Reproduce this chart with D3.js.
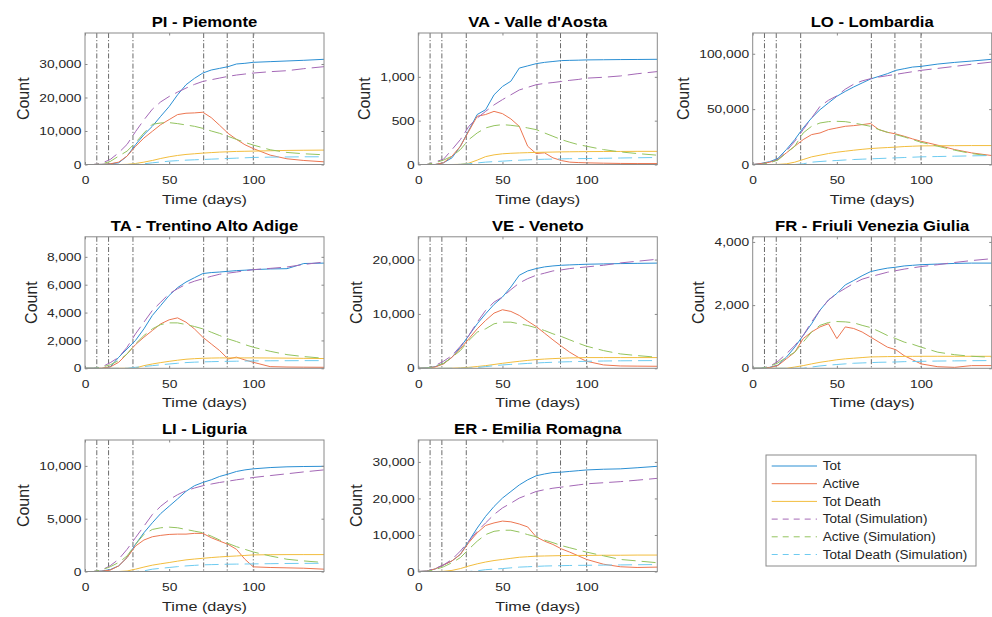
<!DOCTYPE html>
<html><head><meta charset="utf-8">
<script src="https://cdn.jsdelivr.net/npm/d3@7"></script>
<style>body{margin:0;background:#fff}</style>
</head><body><svg id="c" width="992" height="617"></svg>
<script>
// ---------------- DATA ----------------
const days = [0,5,10,15,20,25,30,35,40,45,50,55,60,65,70,75,80,85,90,95,100,110,120,130,142];
const xMax = 142;
const xTicks = [0,50,100];
const eventDays = [7,14,28.5,70.5,84.5,100];
const regionCodes = ["PI","VA","LO","TA","VE","FR","LI","ER"];
const regionTitles = ["PI - Piemonte","VA - Valle d'Aosta","LO - Lombardia","TA - Trentino Alto Adige","VE - Veneto","FR - Friuli Venezia Giulia","LI - Liguria","ER - Emilia Romagna"];
const yTickValues = [
  [0,10000,20000,30000],
  [0,500,1000],
  [0,50000,100000],
  [0,2000,4000,6000,8000],
  [0,10000,20000],
  [0,2000,4000],
  [0,5000,10000],
  [0,10000,20000,30000]
];
const seriesLabels = ["Tot","Active","Tot Death","Total (Simulation)","Active (Simulation)","Total Death (Simulation)"];

// Piemonte
const PI_tot       = [0,0,50,200,500,2500,5900,8900,11400,14400,17300,20800,23800,25700,27300,28200,28700,29200,30000,30200,30500,30700,30900,31100,31400];
const PI_active    = [0,0,50,200,700,2500,5400,7900,9900,11900,13400,14900,15300,15400,15600,14000,11700,9300,7500,5900,4750,2800,1700,1200,800];
const PI_death     = [0,0,0,0,0,50,300,700,1200,1800,2300,2700,3000,3200,3400,3550,3700,3800,3900,3950,4000,4100,4200,4250,4300];
const PI_totSim    = [0,0,400,1500,3500,6000,9800,13300,16500,18700,20300,21600,22800,23900,24800,25300,25800,26300,26700,27000,27300,27700,28000,28600,29200];
const PI_activeSim = [0,0,200,900,2500,4000,6500,9400,12000,12400,12500,12200,11800,11400,10800,10000,9300,8400,7500,6600,5800,4400,3600,3200,2900];
const PI_deathSim  = [0,0,0,0,0,0,50,200,500,750,1000,1150,1300,1400,1500,1600,1700,1800,1900,2000,2100,2200,2250,2300,2300];
// Valle d'Aosta
const VA_tot       = [0,0,0,20,76,208,390,570,625,795,890,950,1100,1125,1150,1165,1175,1185,1188,1190,1193,1195,1197,1198,1200];
const VA_active    = [0,0,0,20,95,208,380,550,570,606,580,520,435,208,125,133,76,45,27,22,19,15,12,11,11];
const VA_death     = [0,0,0,0,0,2,15,50,90,110,122,128,132,135,138,140,142,144,145,146,147,148,149,150,150];
const VA_totSim    = [0,0,30,60,170,284,435,530,606,680,740,795,850,880,910,925,935,947,960,970,985,995,1010,1035,1060];
const VA_activeSim = [0,0,20,50,95,170,284,360,417,443,455,447,435,417,398,360,322,284,254,227,208,170,144,125,106];
const VA_deathSim  = [0,0,0,0,0,2,8,18,27,33,38,44,49,53,57,60,62,64,66,67,68,71,74,77,80];
// Lombardia
const LO_tot       = [0,1000,2500,5500,13500,22500,33000,42000,49500,55600,61600,66000,70000,73600,77200,79600,82000,85000,86500,88000,88600,90700,92200,93400,95000];
const LO_active    = [0,800,2000,4500,10500,16500,22500,27000,28500,31500,33000,34500,35100,36000,37000,31500,29100,27600,25500,23100,21000,17400,13500,10500,8100];
const LO_death     = [0,0,0,100,600,2100,4500,6900,8400,9900,11100,12000,12900,13700,14400,14900,15300,15700,16200,16500,16800,16900,17000,17100,17100];
const LO_totSim    = [0,0,1500,4500,12000,21000,31500,42000,52500,58000,62000,68000,72500,75500,77500,79000,80200,81400,82600,83800,85000,86800,88600,90500,92500];
const LO_activeSim = [0,0,1500,4000,10500,16500,28500,34500,37500,38700,39000,38700,37500,36000,34500,31500,29100,27000,24900,22500,20100,16500,12900,9900,7500];
const LO_deathSim  = [0,0,0,0,0,0,600,2100,2700,3200,3600,4100,4500,4800,5100,5400,5700,6000,6300,6600,6900,7200,7500,7800,8100];
// Trentino Alto Adige
const TA_tot       = [0,0,0,100,790,1390,2000,2830,3790,4510,5230,5790,6190,6500,6800,6870,6910,6960,7010,7040,7080,7130,7150,7520,7550];
const TA_active    = [0,0,0,100,430,1030,1700,2230,2710,3190,3480,3620,3310,2830,2230,1750,1270,670,800,600,430,120,90,80,72];
const TA_death     = [0,0,0,0,0,0,20,190,310,410,500,580,650,690,720,735,745,745,745,745,745,740,730,715,700];
const TA_totSim    = [0,0,100,400,790,1510,2470,3310,4150,4750,5350,5710,6030,6250,6430,6600,6750,6830,6910,7000,7080,7170,7270,7450,7630];
const TA_activeSim = [0,0,80,250,550,1030,1750,2350,2830,3140,3260,3260,3140,3000,2830,2590,2350,2110,1920,1700,1510,1220,980,840,720];
const TA_deathSim  = [0,0,0,0,0,0,72,130,190,250,310,360,410,440,460,475,490,500,510,520,530,540,545,550,550];
// Veneto
const VE_tot       = [0,50,300,900,2030,3880,6030,8180,10030,11750,13110,14950,17110,17910,18340,18650,18830,18950,19020,19080,19140,19200,19260,19300,19350];
const VE_active    = [0,50,250,800,2030,3570,5420,7260,8800,10150,10770,10460,9720,8680,7690,6460,5230,4060,2950,2030,1290,620,430,400,370];
const VE_death     = [0,0,0,0,20,80,180,330,490,700,920,1110,1290,1450,1600,1700,1780,1850,1910,1940,1970,1970,1970,1970,1970];
const VE_totSim    = [0,50,500,1300,2340,4060,6030,8490,10650,12180,13110,14460,15690,16490,17110,17500,17910,18100,18340,18500,18650,18950,19380,19690,20060];
const VE_activeSim = [0,50,400,900,2030,3260,5110,6650,7260,8180,8490,8490,8180,7880,7450,6950,6340,5850,5230,4620,4060,3260,2650,2340,2030];
const VE_deathSim  = [0,0,0,0,0,0,20,150,310,470,620,720,800,900,980,1050,1110,1170,1210,1250,1290,1340,1380,1400,1420];
// Friuli Venezia Giulia
const FR_tot       = [0,0,30,100,350,670,1040,1410,1840,2160,2370,2640,2780,2930,3060,3120,3170,3200,3240,3260,3280,3300,3320,3330,3330];
const FR_active    = [0,0,20,90,300,510,940,1150,1310,1410,940,1310,1260,1150,990,830,670,590,400,270,140,50,30,85,85];
const FR_death     = [0,0,0,0,0,40,85,140,190,230,270,300,320,340,360,365,370,373,375,378,380,380,380,380,380];
const FR_totSim    = [0,0,60,220,460,720,1040,1470,1840,2160,2370,2530,2690,2820,2900,2970,3040,3090,3140,3180,3220,3280,3350,3410,3470];
const FR_activeSim = [0,0,60,170,350,510,830,1150,1360,1450,1480,1470,1440,1360,1290,1170,1040,940,830,760,670,510,430,380,350];
const FR_deathSim  = [0,0,0,0,0,0,0,40,75,100,120,140,160,170,180,190,195,200,210,215,220,230,235,240,245];
// Liguria
const LI_tot       = [0,0,50,180,530,1320,2570,3670,4610,5490,6180,6870,7590,8120,8430,8680,9000,9220,9470,9620,9720,9840,9910,9940,9960];
const LI_active    = [0,0,30,130,530,1320,2410,2980,3290,3420,3510,3540,3540,3610,3610,3200,2880,2570,2100,1160,440,380,345,310,220];
const LI_death     = [0,0,0,0,0,50,220,420,600,730,850,980,1100,1180,1250,1320,1380,1430,1470,1520,1570,1590,1600,1600,1600];
const LI_totSim    = [0,0,150,550,1160,2100,3200,4290,5390,6180,6800,7270,7650,7900,8120,8280,8430,8550,8680,8790,8900,9080,9250,9430,9620];
const LI_activeSim = [0,0,150,450,850,1470,2570,3510,3980,4140,4200,4140,3980,3820,3670,3350,2980,2660,2350,2100,1850,1470,1160,1000,850];
const LI_deathSim  = [0,0,0,0,0,0,0,60,220,300,380,460,530,580,630,650,670,690,700,710,720,740,760,770,780];
// Emilia Romagna
const ER_tot       = [0,100,700,1800,2900,4700,8300,11900,15100,17800,20100,21900,23700,25100,26200,26700,27100,27200,27400,27600,27800,28000,28100,28400,28800];
const ER_active    = [0,100,700,1800,2900,4700,7900,10600,12600,13300,13800,13600,13000,12200,9500,8300,7400,6200,5300,4300,3300,2000,1300,1100,1200];
const ER_death     = [0,0,0,50,300,800,1500,2100,2600,3000,3300,3600,3900,4050,4200,4250,4300,4350,4400,4400,4400,4450,4450,4500,4500];
const ER_totSim    = [0,100,800,1800,3300,5600,8300,11000,13300,15600,17400,18700,20100,21000,21900,22400,22800,23100,23400,23700,24000,24300,24600,25000,25500];
const ER_activeSim = [0,50,500,1300,2400,3800,6100,8300,10100,11000,11300,11300,10800,10100,9500,8600,7900,7100,6500,5900,5300,4300,3300,2900,2400];
const ER_deathSim  = [0,0,0,0,0,0,0,200,500,650,800,1000,1200,1300,1400,1500,1550,1600,1650,1680,1700,1750,1800,1850,1900];

// table built from the arrays above
const regionSeries = [
  [PI_tot,PI_active,PI_death,PI_totSim,PI_activeSim,PI_deathSim],
  [VA_tot,VA_active,VA_death,VA_totSim,VA_activeSim,VA_deathSim],
  [LO_tot,LO_active,LO_death,LO_totSim,LO_activeSim,LO_deathSim],
  [TA_tot,TA_active,TA_death,TA_totSim,TA_activeSim,TA_deathSim],
  [VE_tot,VE_active,VE_death,VE_totSim,VE_activeSim,VE_deathSim],
  [FR_tot,FR_active,FR_death,FR_totSim,FR_activeSim,FR_deathSim],
  [LI_tot,LI_active,LI_death,LI_totSim,LI_activeSim,LI_deathSim],
  [ER_tot,ER_active,ER_death,ER_totSim,ER_activeSim,ER_deathSim]
];

// ---------------- STYLE / LAYOUT ----------------
const FONT = "'Liberation Sans', Arial, Helvetica, sans-serif";
const SX = 1.2;
const seriesColors = ["#2b8fd3","#ec7651","#f2bd3e","#a468b6","#93c35e","#6ecbf0"];
const seriesDash = [null,null,null,"14,6","14,6","14,6"];
const boxColor = "#8a8a8a";
const colX = [85, 418.3, 752.7];
const rowY = [33, 236.8, 440];
const W = 239, H = 131.5;

const svg = d3.select("#c");

regionCodes.forEach((code, i) => {
  const col = i % 3, row = Math.floor(i / 3);
  const g = svg.append("g").attr("transform", `translate(${colX[col]},${rowY[row]})`);
  const series = regionSeries[i];
  const x = d3.scaleLinear().domain([0, xMax]).range([0, W]);
  const y = d3.scaleLinear().domain([0, 1.25 * d3.max(series[0])]).range([H, 0]);

  const clipId = "clip" + code;
  g.append("clipPath").attr("id", clipId).append("rect").attr("width", W).attr("height", H);

  // event lines
  g.append("g").selectAll("line").data(eventDays).join("line")
    .attr("x1", d => x(d)).attr("x2", d => x(d)).attr("y1", 0).attr("y2", H)
    .attr("stroke", "#5a5a5a").attr("stroke-width", 0.9).attr("stroke-dasharray", "5,2,1.2,2");

  // series
  const line = d3.line().x((d, j) => x(days[j])).y(d => y(d));
  const lg = g.append("g").attr("clip-path", `url(#${clipId})`);
  series.forEach((s, k) => {
    lg.append("path").datum(s).attr("d", line).attr("fill", "none")
      .attr("stroke", seriesColors[k]).attr("stroke-width", 1)
      .attr("stroke-dasharray", seriesDash[k]);
  });

  // box
  g.append("rect").attr("width", W).attr("height", H).attr("fill", "none").attr("stroke", boxColor).attr("stroke-width", 1);

  // axes
  const styleAxis = (a) => {
    a.select(".domain").remove();
    a.attr("font-family", FONT).attr("font-size", 11.5).attr("color", "#262626");
    a.selectAll("line").attr("stroke", boxColor);
  };
  const gx = g.append("g").attr("transform", `translate(0,${H})`)
    .call(d3.axisBottom(x).tickValues(xTicks).tickSizeInner(-2.5).tickSizeOuter(0).tickPadding(11.5).tickFormat(d3.format("d")));
  styleAxis(gx);
  gx.selectAll("text").attr("transform", `scale(${SX},1)`);
  const gxt = g.append("g").call(d3.axisTop(x).tickValues(xTicks).tickSizeInner(-2.5).tickSizeOuter(0).tickFormat(""));
  styleAxis(gxt);

  const gy = g.append("g")
    .call(d3.axisLeft(y).tickValues(yTickValues[i]).tickSizeInner(-2.5).tickSizeOuter(0).tickPadding(3).tickFormat(d3.format(",")));
  styleAxis(gy);
  gy.selectAll("text").attr("transform", `scale(${SX},1)`);
  const gyr = g.append("g").attr("transform", `translate(${W},0)`)
    .call(d3.axisRight(y).tickValues(yTickValues[i]).tickSizeInner(-2.5).tickSizeOuter(0).tickFormat(""));
  styleAxis(gyr);

  // title
  g.append("text").attr("transform", `translate(${W/2},-6) scale(1.15,1)`)
    .attr("text-anchor", "middle").attr("font-family", FONT).attr("font-weight", "bold")
    .attr("font-size", 14.5).attr("fill", "#000").text(regionTitles[i]);

  // x label
  g.append("text").attr("transform", `translate(${W/2},${H + 39}) scale(${SX},1)`)
    .attr("text-anchor", "middle").attr("font-family", FONT).attr("font-size", 13.5)
    .attr("fill", "#262626").text("Time (days)");

  // y label
  const bb = gy.node().getBBox();
  g.append("text").attr("transform", `translate(${bb.x - 16},${H/2}) scale(1.05,1) rotate(-90)`)
    .attr("text-anchor", "middle").attr("dy", "0.35em").attr("font-family", FONT).attr("font-size", 16)
    .attr("fill", "#262626").text("Count");
});

// legend
const leg = svg.append("g").attr("transform", "translate(766,455)");
leg.append("rect").attr("width", 210).attr("height", 111).attr("fill", "#fff").attr("stroke", boxColor).attr("stroke-width", 1);
seriesLabels.forEach((lab, k) => {
  const yy = 11 + k * 17.7;
  leg.append("line").attr("x1", 5.7).attr("x2", 51).attr("y1", yy).attr("y2", yy)
    .attr("stroke", seriesColors[k]).attr("stroke-width", 1)
    .attr("stroke-dasharray", seriesDash[k] ? "6,5" : null);
  leg.append("text").attr("transform", `translate(56.7,${yy}) scale(1.13,1)`)
    .attr("dy", "0.35em").attr("font-family", FONT).attr("font-size", 12).attr("fill", "#262626").text(lab);
});
</script>
</body></html>
